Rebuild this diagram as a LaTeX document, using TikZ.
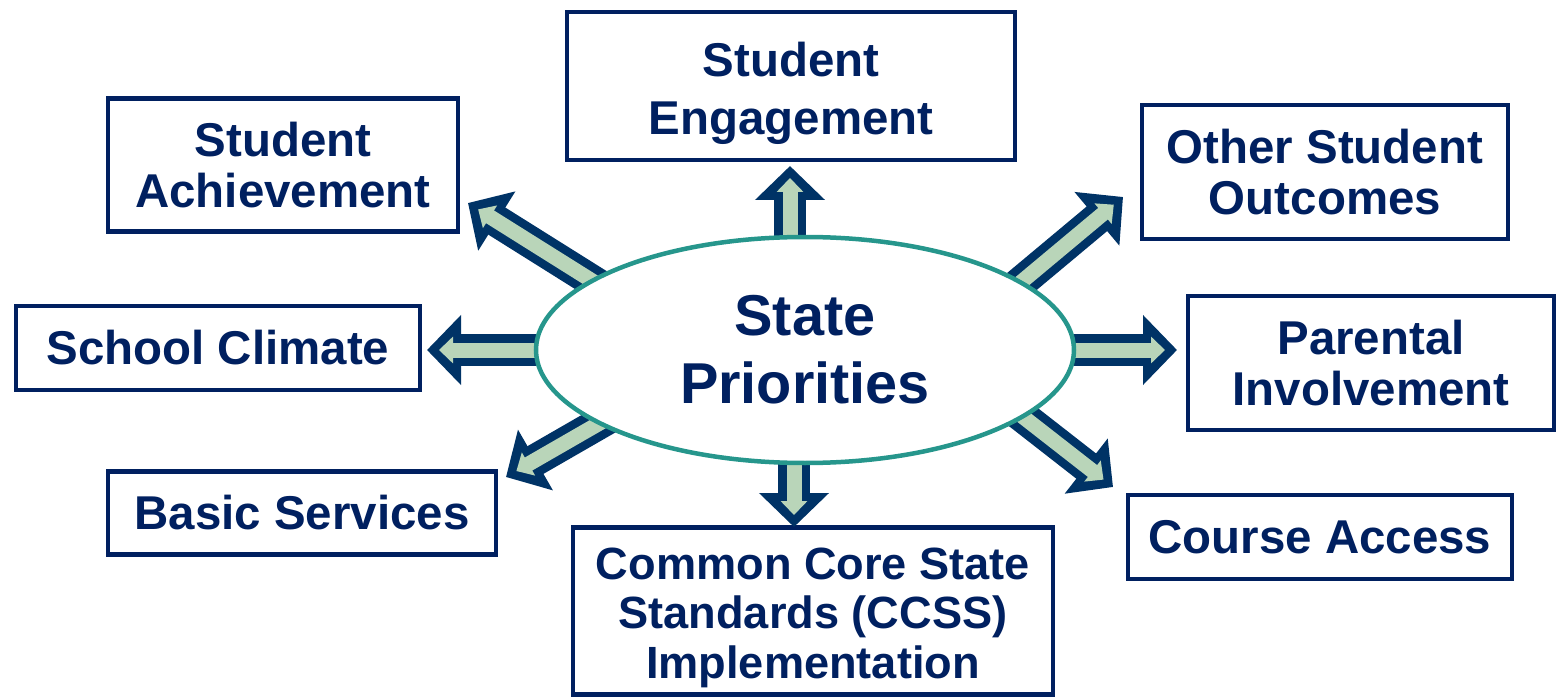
\documentclass[tikz,border=0pt]{standalone}
\usepackage{fontspec}
\setmainfont{Liberation Sans}
\usetikzlibrary{arrows.meta,shapes.geometric}

\definecolor{navytext}{HTML}{002060}
\definecolor{navyarrow}{HTML}{003366}
\definecolor{palegreen}{HTML}{B9D5B9}
\definecolor{tealring}{HTML}{26968C}

\tikzset{
    areabox/.style={draw=navytext, line width=0.045cm, fill=white, inner sep=0pt,
        align=center, text=navytext, font=\fontsize{13.5}{14.4}\selectfont\bfseries},
    outerarrow/.style={draw=navyarrow, line width=0.32cm, -{Triangle[length=0.34cm,width=0.68cm]}},
    innerarrow/.style={draw=palegreen, line width=0.15cm, shorten >=0.12cm, -{Triangle[length=0.14cm,width=0.26cm]}}
}

\begin{document}
\begin{tikzpicture}
            \useasboundingbox (0,0) rectangle (15.58,6.98);

            % Boxes round the centre
            \node[areabox, minimum width=4.48cm, minimum height=1.48cm, font=\fontsize{13.5}{16.5}\selectfont\bfseries] (eng) at (7.91,6.12) {\rule{0pt}{0.5cm}Student\\Engagement};
            \node[areabox, minimum width=3.50cm, minimum height=1.33cm] (ach) at (2.83,5.33) {Student\\Achievement};
            \node[areabox, minimum width=3.66cm, minimum height=1.34cm] (oth) at (13.25,5.26) {Other Student\\Outcomes};
            \node[areabox, minimum width=4.04cm, minimum height=0.84cm] (cli) at (2.18,3.50) {School Climate};
            \node[areabox, minimum width=3.66cm, minimum height=1.34cm] (par) at (13.71,3.35) {Parental\\Involvement};
            \node[areabox, minimum width=3.88cm, minimum height=0.83cm] (bas) at (3.02,1.85) {Basic Services};
            \node[areabox, minimum width=4.80cm, minimum height=1.67cm, font=\fontsize{12.85}{14.1}\selectfont\bfseries] (ccs) at (8.13,0.87) {\rule{0pt}{0.45cm}Common Core State\\Standards (CCSS)\\Implementation};
            \node[areabox, minimum width=3.84cm, minimum height=0.84cm] (crs) at (13.20,1.61) {Course Access};

            % Arrow ends (start under the ellipse, tip near its box)
            \coordinate (engS) at (7.90,4.30);  \coordinate (engT) at (7.90,5.32);
            \coordinate (ccsS) at (7.94,2.70);  \coordinate (ccsT) at (7.94,1.71);
            \coordinate (cliS) at (5.60,3.48);  \coordinate (cliT) at (4.27,3.48);
            \coordinate (parS) at (10.50,3.48); \coordinate (parT) at (11.77,3.48);
            \coordinate (othS) at (9.77,3.79);  \coordinate (othT) at (11.23,5.01);
            \coordinate (achS) at (6.29,3.94);  \coordinate (achT) at (4.68,4.95);
            \coordinate (basS) at (6.71,3.16);  \coordinate (basT) at (5.06,2.21);
            \coordinate (crsS) at (9.63,3.28);  \coordinate (crsT) at (11.13,2.11);

            % Block arrows
            \foreach \a in {eng,ccs,cli,par,oth,ach,bas,crs} {
                \draw[outerarrow] (\a S) -- (\a T);
                \draw[innerarrow] (\a S) -- (\a T);
            }

            % Centre ellipse
            \node[ellipse, draw=tealring, line width=0.045cm, fill=white,
                  minimum width=5.38cm, minimum height=2.26cm, align=center,
                  text=navytext, font=\fontsize{16.4}{19.4}\selectfont\bfseries]
                  (sp) at (8.05,3.48) {State\\Priorities};
\end{tikzpicture}
\end{document}
